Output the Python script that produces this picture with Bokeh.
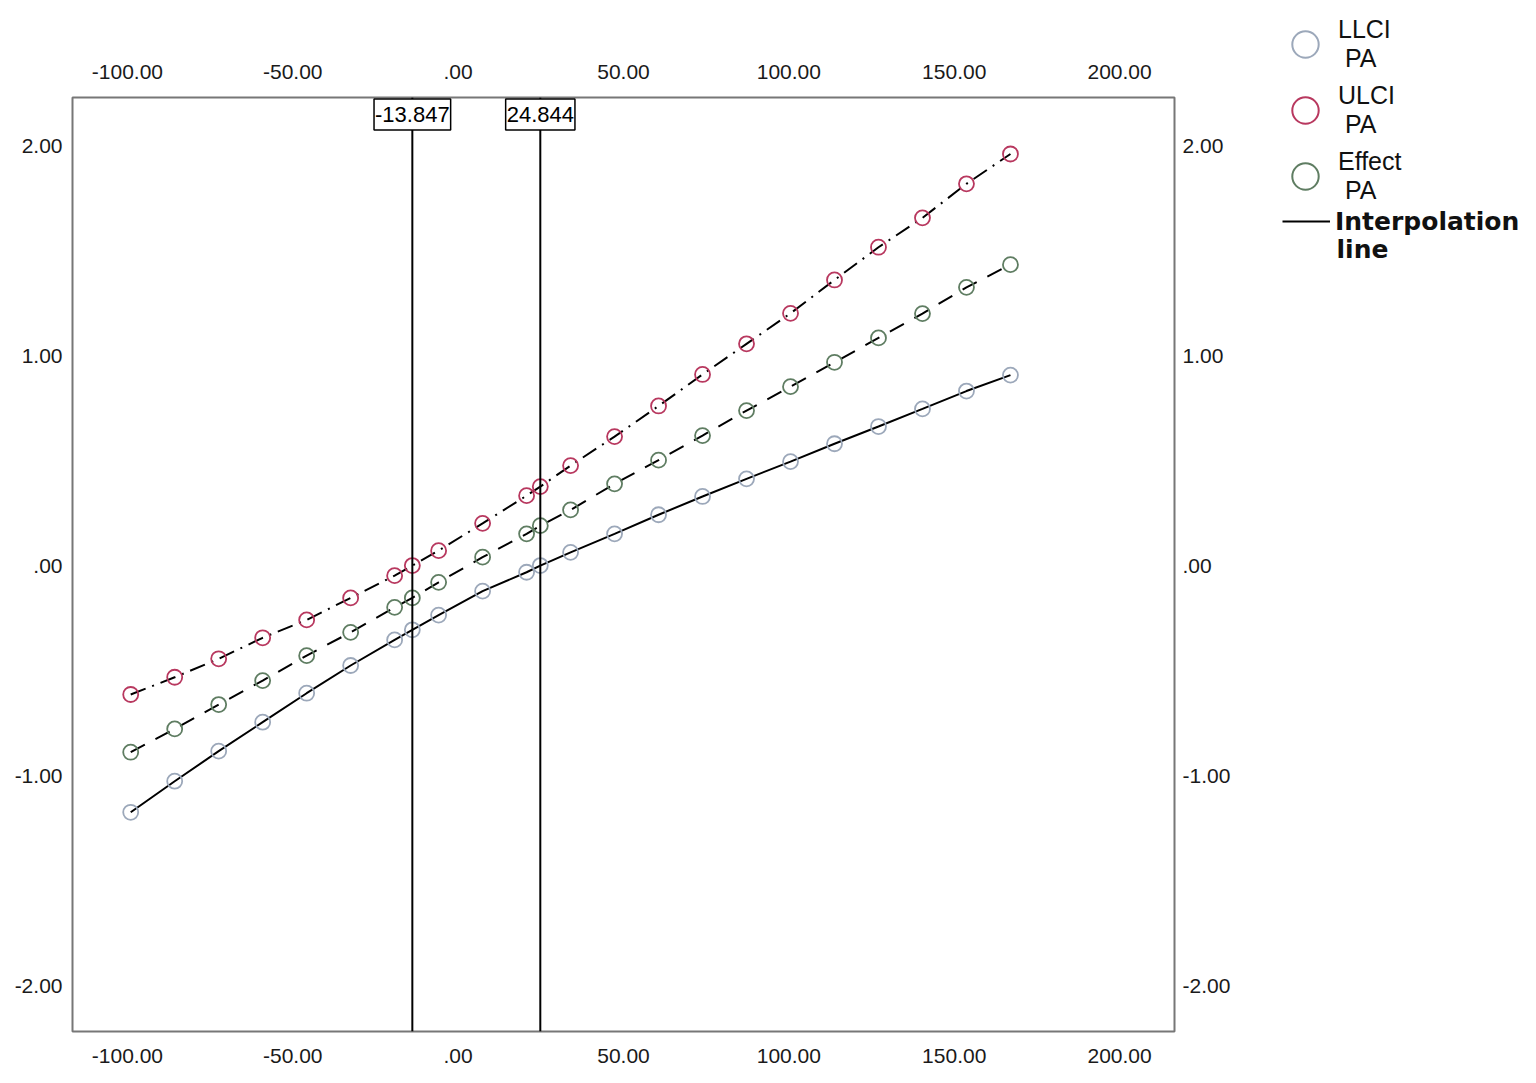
from bokeh.plotting import figure
from bokeh.models import (Range1d, LinearAxis, FixedTicker, Span, Label, Legend,
                          LegendItem, ColumnDataSource)
from bokeh.embed import file_html
from bokeh.resources import INLINE

# ---- data ----
moderator = [-99.0, -85.7, -72.4, -59.1, -45.8, -32.5, -19.2, -13.847, -5.9, 7.4, 20.7,
             24.844, 34.0, 47.3, 60.6, 73.9, 87.2, 100.5, 113.8, 127.1, 140.4, 153.7, 167.0]
llci = [-1.175, -1.027, -0.884, -0.746, -0.608, -0.476, -0.354, -0.306, -0.236, -0.122, -0.032,
        0.000, 0.063, 0.151, 0.242, 0.329, 0.413, 0.495, 0.580, 0.662, 0.746, 0.831, 0.907]
effect = [-0.889, -0.778, -0.662, -0.548, -0.429, -0.318, -0.199, -0.154, -0.080, 0.040, 0.151,
          0.190, 0.265, 0.389, 0.502, 0.619, 0.738, 0.852, 0.968, 1.084, 1.200, 1.325, 1.433]
ulci = [-0.614, -0.532, -0.444, -0.344, -0.259, -0.154, -0.048, 0.000, 0.071, 0.201, 0.333,
        0.376, 0.476, 0.614, 0.760, 0.910, 1.056, 1.201, 1.360, 1.516, 1.656, 1.818, 1.960]

jn_points = [-13.847, 24.844]
jn_labels = ["-13.847", "24.844"]

x_ticks = [-100, -50, 0, 50, 100, 150, 200]
x_tick_labels = ["-100.00", "-50.00", ".00", "50.00", "100.00", "150.00", "200.00"]
y_ticks = [-2, -1, 0, 1, 2]
y_tick_labels = ["-2.00", "-1.00", ".00", "1.00", "2.00"]

series_names = ["LLCI\n PA", "ULCI\n PA", "Effect\n PA"]
line_name = "Interpolation"
line_name_2 = "line"

# ---- styles ----
FONT = "Liberation Sans"
BOLD_FONT = "DejaVu Sans"
C_LLCI = "#9ca8ba"
C_ULCI = "#b8385f"
C_EFF = "#5f7d62"

p = figure(width=1250, height=1080,
           x_range=Range1d(-116.6, 216.6), y_range=Range1d(-2.219, 2.229),
           output_backend="svg", toolbar_location=None,
           x_axis_location=None, y_axis_location=None,
           min_border_left=72, min_border_right=76, min_border_top=97, min_border_bottom=49)
p.outline_line_color = "#777777"
p.outline_line_width = 2
p.grid.grid_line_color = None
p.background_fill_color = "white"
p.border_fill_color = "white"


def style_axis(ax, ticks, labels, standoff):
    ax.ticker = FixedTicker(ticks=ticks)
    ax.major_label_overrides = {t: l for t, l in zip(ticks, labels)}
    ax.axis_line_color = None
    ax.major_tick_line_color = None
    ax.minor_tick_line_color = None
    ax.major_tick_in = 0
    ax.major_tick_out = 0
    ax.minor_tick_in = 0
    ax.minor_tick_out = 0
    ax.major_label_standoff = standoff
    ax.major_label_text_font = FONT
    ax.major_label_text_font_size = "21px"
    ax.major_label_text_color = "#1a1a1a"


for loc, st in (("above", 19), ("below", 17)):
    ax = LinearAxis()
    style_axis(ax, x_ticks, x_tick_labels, st)
    p.add_layout(ax, loc)
for loc, st in (("left", 10), ("right", 8)):
    ax = LinearAxis()
    style_axis(ax, y_ticks, y_tick_labels, st)
    p.add_layout(ax, loc)

# Johnson-Neyman lines
for xv in jn_points:
    p.add_layout(Span(location=xv, dimension="height", line_color="black", line_width=2))

src = ColumnDataSource(dict(x=moderator, llci=llci, effect=effect, ulci=ulci))

p.line("x", "llci", source=src, line_color="black", line_width=2)
p.line("x", "effect", source=src, line_color="black", line_width=2, line_dash="16 12")
p.line("x", "ulci", source=src, line_color="black", line_width=2, line_dash="16 7 2 7")

p.scatter("x", "llci", source=src, marker="circle", size=15, fill_color=None,
          line_color=C_LLCI, line_width=1.8)
p.scatter("x", "ulci", source=src, marker="circle", size=15, fill_color=None,
          line_color=C_ULCI, line_width=1.8)
p.scatter("x", "effect", source=src, marker="circle", size=15, fill_color=None,
          line_color=C_EFF, line_width=1.8)

# boxed labels of the J-N points
for xv, txt in zip(jn_points, jn_labels):
    p.add_layout(Label(x=xv, y=2.148, text=txt, text_align="center", text_baseline="middle",
                       text_font=FONT, text_font_size="22px", text_color="black",
                       border_line_color="black", border_line_width=1.5,
                       background_fill_color="white", padding=(1, 1, 8, 8)))

# ---- legend panel (separate root placed to the right of the chart) ----
LW, LH = 282, 280
lg = figure(width=LW, height=LH, x_range=Range1d(0, LW), y_range=Range1d(0, LH),
            title=None, output_backend="svg", toolbar_location=None,
            x_axis_location=None, y_axis_location=None,
            min_border_left=0, min_border_right=0, min_border_top=0, min_border_bottom=0)
lg.outline_line_color = None
lg.grid.grid_line_color = None
lg.background_fill_color = "white"
lg.border_fill_color = "white"
lg.styles = {"position": "absolute", "left": "1250px", "top": "0px"}

d_llci = lg.scatter([-500], [-500], marker="circle", size=15, fill_color=None,
                    line_color=C_LLCI, line_width=2)
d_ulci = lg.scatter([-500], [-500], marker="circle", size=15, fill_color=None,
                    line_color=C_ULCI, line_width=2)
d_eff = lg.scatter([-500], [-500], marker="circle", size=15, fill_color=None,
                   line_color=C_EFF, line_width=2)
d_line = lg.line([-500, -490], [-500, -500], line_color="black", line_width=2)

leg = Legend(items=[LegendItem(label=series_names[0], renderers=[d_llci]),
                    LegendItem(label=series_names[1], renderers=[d_ulci]),
                    LegendItem(label=series_names[2], renderers=[d_eff])],
             location=(22, 71), orientation="vertical",
             glyph_width=66, glyph_height=66, label_standoff=0, spacing=0, padding=0, margin=0,
             border_line_color=None, background_fill_alpha=0,
             label_text_font=FONT, label_text_font_size="25px", label_text_line_height=1.08,
             label_text_color="#111111")
lg.add_layout(leg)

leg2 = Legend(items=[LegendItem(label=line_name, renderers=[d_line])],
              location=(32, 39), orientation="vertical",
              glyph_width=48, glyph_height=40, label_height=40, label_standoff=5,
              spacing=0, padding=0, margin=0,
              border_line_color=None, background_fill_alpha=0,
              label_text_font=BOLD_FONT, label_text_font_style="bold",
              label_text_font_size="25px", label_text_color="#111111")
lg.add_layout(leg2)

lg.add_layout(Label(x=86, y=31, x_units="screen", y_units="screen", text=line_name_2,
                    text_font=BOLD_FONT, text_font_style="bold", text_font_size="25px",
                    text_color="#111111", text_baseline="alphabetic"))

open("out.html", "w").write(file_html([p, lg], INLINE))
